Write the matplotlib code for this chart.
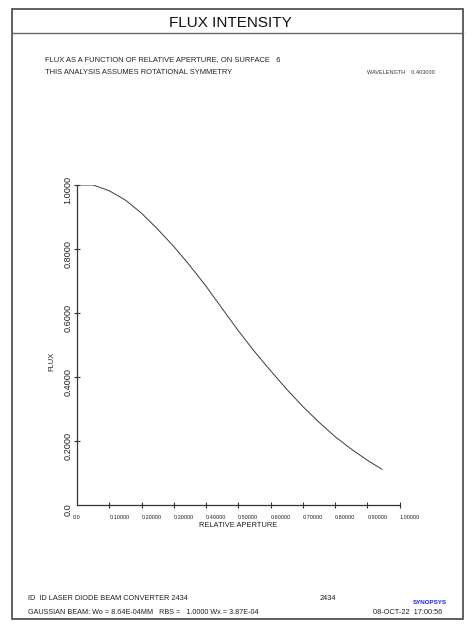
import matplotlib
matplotlib.use("Agg")
import matplotlib.pyplot as plt
from matplotlib.lines import Line2D
from matplotlib.patches import Rectangle

W, H = 474, 627

# flux vs relative aperture
aperture = [0.0, 0.05, 0.10, 0.15, 0.20, 0.25, 0.30, 0.35, 0.40, 0.45,
            0.50, 0.55, 0.60, 0.65, 0.70, 0.75, 0.80, 0.85, 0.90, 0.945]
flux = [1.0, 1.0, 0.982, 0.953, 0.912, 0.862, 0.808, 0.748, 0.684, 0.614,
        0.545, 0.480, 0.420, 0.362, 0.308, 0.259, 0.214, 0.175, 0.140, 0.112]

xticks = [0.0, 0.1, 0.2, 0.3, 0.4, 0.5, 0.6, 0.7, 0.8, 0.9, 1.0]
xticklabels = ["0.0", "0.10000", "0.20000", "0.30000", "0.40000", "0.50000",
               "0.60000", "0.70000", "0.80000", "0.90000", "1.00000"]
yticks = [0.0, 0.2, 0.4, 0.6, 0.8, 1.0]
yticklabels = ["0.0", "0.2000", "0.4000", "0.6000", "0.8000", "1.0000"]

plt.rcParams["font.family"] = ["Liberation Sans", "DejaVu Sans"]


def fx(px):
    return px / W


def fy(py):
    return 1 - py / H


fig = plt.figure(figsize=(W / 100, H / 100), dpi=100)
fig.patch.set_facecolor("white")

# outer frame and title divider
fig.add_artist(Rectangle((fx(12), fy(619)), fx(463) - fx(12), fy(9) - fy(619),
                         transform=fig.transFigure, fill=False,
                         edgecolor="#444444", linewidth=1.2))
fig.add_artist(Line2D([fx(12), fx(463)], [fy(33), fy(33)],
                      transform=fig.transFigure, color="#666666", linewidth=1.0))

fig.text(fx(230), fy(23), "FLUX INTENSITY", ha="center", va="center",
         fontsize=11, color="#111111")
fig.text(fx(45), fy(60), "FLUX AS A FUNCTION OF RELATIVE APERTURE, ON SURFACE   6",
         ha="left", va="center", fontsize=5.4, color="#222222")
fig.text(fx(45), fy(72), "THIS ANALYSIS ASSUMES ROTATIONAL SYMMETRY",
         ha="left", va="center", fontsize=5.4, color="#222222")
fig.text(fx(367), fy(72), "WAVELENGTH    0.403000",
         ha="left", va="center", fontsize=4.0, color="#333333")

ax = fig.add_axes([fx(77), fy(505), fx(399.5) - fx(77), fy(185) - fy(505)])
ax.plot(aperture, flux, color="#3a3a3a", linewidth=0.7)
ax.set_xlim(0, 1)
ax.set_ylim(0, 1)
for s in ("top", "right"):
    ax.spines[s].set_visible(False)
for s in ("left", "bottom"):
    ax.spines[s].set_color("#333333")
    ax.spines[s].set_linewidth(0.9)

ax.set_xticks(xticks)
ax.set_xticklabels(xticklabels, fontsize=4, ha="left", color="#222222")
ax.get_xticklabels()[0].set_ha("center")
ax.set_yticks(yticks)
ax.set_yticklabels([])
ax.tick_params(direction="inout", length=5, width=0.8, color="#333333")
ax.tick_params(axis="x", pad=5)
ax.xaxis.get_major_ticks()[0].tick1line.set_visible(False)
ax.yaxis.get_major_ticks()[0].tick1line.set_visible(False)

# y labels sit a little below their ticks, as in the reference
ytrans = ax.get_yaxis_transform()
for v, lab in zip(yticks, yticklabels):
    ax.text(-9 / 322.5, v - 5 / 320, lab, transform=ytrans, rotation=90,
            ha="center", va="center", fontsize=6.6, color="#222222")

ax.set_xlabel("RELATIVE APERTURE", fontsize=5.4, labelpad=1, color="#222222")
fig.text(fx(52), fy(361), "FLUX", rotation=90, ha="center", va="center",
         fontsize=5.4, color="#222222")

# footer
fig.text(fx(28), fy(598), "ID  ID LASER DIODE BEAM CONVERTER 2434",
         ha="left", va="center", fontsize=5.3, color="#222222")
fig.text(fx(320), fy(598), "2434", ha="left", va="center", fontsize=5.3,
         color="#222222")
fig.text(fx(430), fy(602), "SYNOPSYS", ha="center", va="center", fontsize=4.5,
         color="#1a1aff", fontweight="bold")
fig.text(fx(28), fy(612),
         "GAUSSIAN BEAM: Wo = 8.64E-04MM   RBS =   1.0000 Wx = 3.87E-04",
         ha="left", va="center", fontsize=5.2, color="#222222")
fig.text(fx(373), fy(612), "08-OCT-22  17:00:56", ha="left", va="center",
         fontsize=5.3, color="#222222")

fig.savefig("out.png", dpi=100)
